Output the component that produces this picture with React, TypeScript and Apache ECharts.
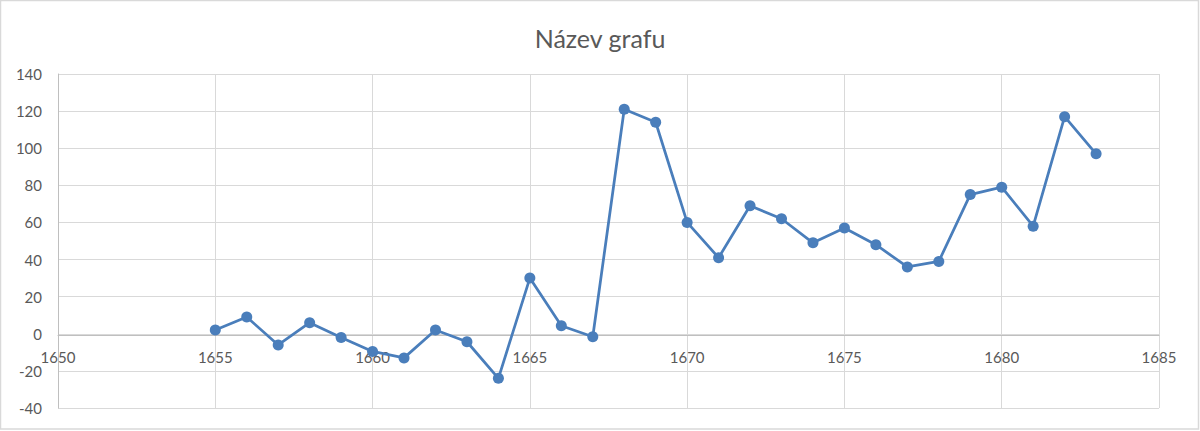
import React, { useEffect, useRef } from "react";
import * as echarts from "echarts";

const years = [1655, 1656, 1657, 1658, 1659, 1660, 1661, 1662, 1663, 1664, 1665, 1666, 1667, 1668, 1669, 1670, 1671, 1672, 1673, 1674, 1675, 1676, 1677, 1678, 1679, 1680, 1681, 1682, 1683];
const values = [2, 9, -6, 6, -2, -9.5, -13, 2, -4.3, -24, 30, 4.3, -1.6, 121, 114, 60, 41, 69, 62, 49, 57, 48, 36, 39, 75, 79, 58, 117, 97];
const title = "Název grafu";
const yMin = -40;

export default function App() {
  const ref = useRef<HTMLDivElement>(null);
  useEffect(() => {
    document.body.style.margin = "0";
    const chart = echarts.init(ref.current!, undefined, { renderer: "svg" });
    const font = "Lato, 'Noto Sans', sans-serif";
    chart.setOption({
      animation: false,
      backgroundColor: "#ffffff",
      title: {
        text: title,
        left: "center",
        top: 20,
        textStyle: { fontFamily: font, fontSize: 25, fontWeight: "normal", color: "#595959" },
      },
      graphic: [
        {
          type: "rect",
          shape: { x: 0.5, y: 0.5, width: 1198, height: 428.5 },
          style: { fill: "none", stroke: "#d9d9d9", lineWidth: 1.5 },
          silent: true,
        },
      ],
      grid: { left: 58, right: 41, top: 74, bottom: 23, containLabel: false },
      xAxis: {
        type: "value",
        min: 1650,
        max: 1685,
        interval: 5,
        axisLine: { show: true, onZero: false, lineStyle: { color: "#bfbfbf", width: 1 } },
        axisTick: { show: false },
        axisLabel: { color: "#595959", fontFamily: font, fontSize: 15, margin: 14, formatter: (v: number) => String(v) },
        splitLine: { show: true, lineStyle: { color: "#d9d9d9", width: 1 } },
      },
      yAxis: {
        type: "value",
        min: yMin,
        max: 140,
        interval: 20,
        axisLine: { show: true, onZero: false, lineStyle: { color: "#bfbfbf", width: 1 } },
        axisTick: { show: false },
        axisLabel: { color: "#595959", fontFamily: font, fontSize: 15, margin: 16 },
        splitLine: { show: true, lineStyle: { color: "#d9d9d9", width: 1 } },
      },
      series: [
        {
          type: "line",
          data: years.map((y, i) => [y, values[i]]),
          symbol: "circle",
          symbolSize: 11,
          lineStyle: { color: "#4a7ebb", width: 2.75 },
          itemStyle: { color: "#4a7ebb" },
        },
      ],
    });
    const zeroY = chart.convertToPixel({ yAxisIndex: 0 }, 0) as number;
    const bottomY = chart.convertToPixel({ yAxisIndex: 0 }, yMin) as number;
    chart.setOption({ xAxis: { offset: -(bottomY - zeroY) } });
    return () => chart.dispose();
  }, []);
  return <div ref={ref} style={{ width: 1200, height: 431 }} />;
}
